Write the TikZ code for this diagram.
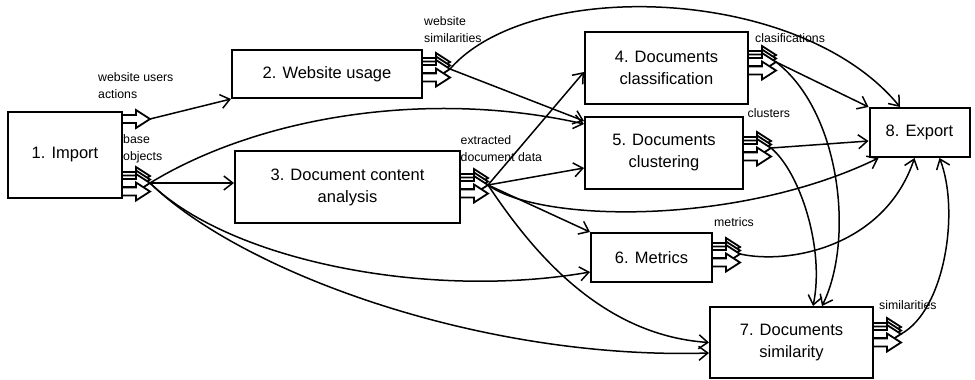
\documentclass[tikz,border=0pt]{standalone}
\usepackage{fontspec}
\setmainfont{Liberation Sans}
\usepackage{tikz}
\usetikzlibrary{calc, positioning}
\usetikzlibrary{shapes, arrows, arrows.meta}
\tikzset{
    box/.style={rectangle, draw, line width=2pt, fill=white, align=center, inner sep=2pt, font=\fontsize{16.5pt}{22pt}\selectfont},
    lbl/.style={anchor=north west, align=left, inner sep=0pt, font=\fontsize{12.3pt}{17.6pt}\selectfont},
    link/.style={line width=1.5pt, -{Straight Barb[length=9pt, width=14pt]}},
    portline/.style={draw, fill=white, line width=1.8pt},
}
% one hollow output arrow, x = right edge of the box, y = its centre
\newcommand{\portarr}[2]{%
    \draw[portline] (#1,{#2-4}) -- ++(14,0) -- ++(0,-5) -- ++(14,9) -- ++(-14,9) -- ++(0,-5) -- ++(-14,0) -- cycle;
}
\newcommand{\portstack}[2]{%
    \foreach \o in {-7,-3.5,0,8.5} {\portarr{#1}{#2+\o}}
}

\begin{document}
\begin{tikzpicture}[x=1pt, y=-1pt]
    \useasboundingbox (0,0) rectangle (975,380);

    \node[box, minimum width=114pt, minimum height=86pt] (imp) at (65,155) {1. Import};
    \node[box, minimum width=190pt, minimum height=48pt] (web) at (327,74) {2. Website usage};
    \node[box, minimum width=225pt, minimum height=72pt] (dca) at (347.5,187) {3. Document content\\analysis};
    \node[box, minimum width=163pt, minimum height=72pt] (cls) at (666.5,68) {4. Documents\\classification};
    \node[box, minimum width=158pt, minimum height=72pt] (clu) at (664,153) {5. Documents\\clustering};
    \node[box, minimum width=121pt, minimum height=49pt] (met) at (651.5,257.5) {6. Metrics};
    \node[box, minimum width=163pt, minimum height=71pt] (sim) at (791.5,342.5) {7. Documents\\similarity};
    \node[box, minimum width=100pt, minimum height=49pt] (exp) at (919.5,132.5) {8. Export};

    \coordinate (acts) at (150,119);
    \coordinate (base) at (150,183);
    \coordinate (websim) at (450,69);
    \coordinate (extr) at (488,185);
    \coordinate (clsf) at (776,62);
    \coordinate (clst) at (771,148);
    \coordinate (mtr) at (740,254);
    \coordinate (simi) at (901,334);

    \draw[link] (acts) -- (web.south west);
    \draw[link] (base) -- (base -| dca.west);
    \draw[link] (base) .. controls +(110,-67) and +(-155,-35) .. ([yshift=-8pt]clu.north west);
    \draw[link] (base) .. controls +(80,78) and +(-161,28) .. ([yshift=-14.5pt]met.west);
    \draw[link] (base) .. controls +(90,88) and +(-230,7) .. ([yshift=-10.5pt]sim.west);

    \draw[link] (websim) -- ([yshift=-5pt]clu.north west);
    \draw[link] (websim) .. controls +(80,-92) and +(-100,-122) .. ([xshift=-19.5pt]exp.north);

    \draw[link] (extr) -- ([yshift=-4pt]cls.west);
    \draw[link] (extr) -- ([yshift=-15pt]clu.west);
    \draw[link] (extr) -- (met.north west);
    \draw[link] (extr) .. controls +(42,63) and +(-110,-7.5) .. (sim.west);
    \draw[link] (extr) .. controls +(52,38) and +(-140,68) .. ([xshift=10pt]exp.south west);

    \draw[link] (clsf) -- (exp.north west);
    \draw[link] (clsf) .. controls +(64,49) and +(33,-67) .. ([xshift=30.5pt]sim.north);
    \draw[link] (clst) -- ([yshift=-8.5pt]exp.west);
    \draw[link] (clst) .. controls +(29,24) and +(12,-57) .. ([xshift=21.5pt]sim.north);
    \draw[link] (mtr) .. controls +(50,11) and +(-29.5,88) .. ([xshift=-5pt]exp.south);
    \draw[link] (simi) .. controls +(44,-24) and +(20.5,53) .. ([xshift=20pt]exp.south);

    % output ports
    \portarr{122}{119}
    \portstack{122}{183}
    \portstack{422}{69}
    \portstack{460}{185}
    \portstack{748}{62}
    \portstack{743}{148}
    \portstack{712}{254}
    \portstack{873}{334}

    \node[lbl] (l-acts) at (98,72) {website users\\actions};
    \node[lbl] (l-base) at (123,134) {base\\objects};
    \node[lbl] (l-websim) at (424,16) {website\\similarities};
    \node[lbl] (l-extr) at (460.5,135) {extracted\\document data};
    \node[lbl] (l-clsf) at (755,33) {clasifications};
    \node[lbl] (l-clst) at (747.5,108.5) {clusters};
    \node[lbl] (l-mtr) at (714,217) {metrics};
    \node[lbl] (l-simi) at (879,300.5) {similarities};
\end{tikzpicture}
\end{document}
